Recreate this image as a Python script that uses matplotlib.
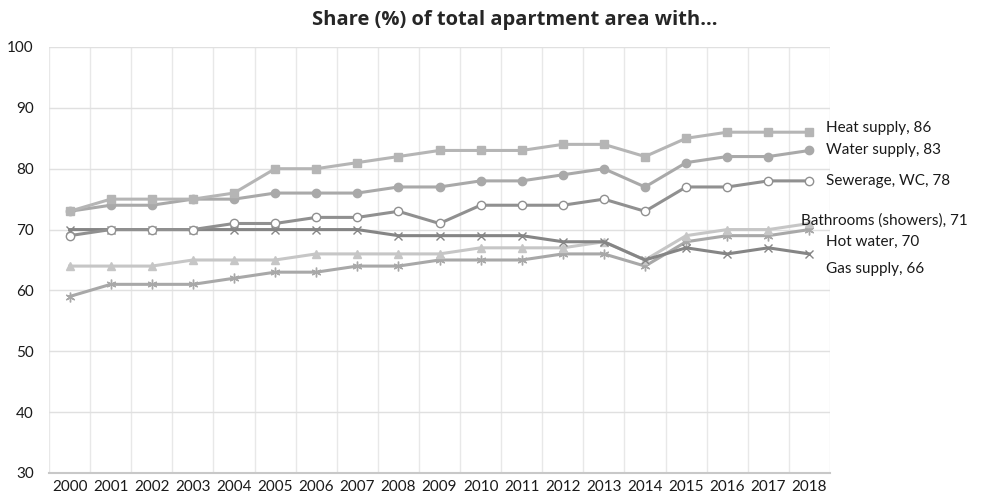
import numpy as np
import matplotlib
matplotlib.use("Agg")
import matplotlib.pyplot as plt

plt.rcParams['font.family'] = ['Lato', 'DejaVu Sans']

years = [str(y) for y in range(2000, 2019)]

heat_supply = [73, 75, 75, 75, 76, 80, 80, 81, 82, 83, 83, 83, 84, 84, 82, 85, 86, 86, 86]
water_supply = [73, 74, 74, 75, 75, 76, 76, 76, 77, 77, 78, 78, 79, 80, 77, 81, 82, 82, 83]
sewerage = [69, 70, 70, 70, 71, 71, 72, 72, 73, 71, 74, 74, 74, 75, 73, 77, 77, 78, 78]
bathrooms = [64, 64, 64, 65, 65, 65, 66, 66, 66, 66, 67, 67, 67, 68, 65, 69, 70, 70, 71]
hot_water = [59, 61, 61, 61, 62, 63, 63, 64, 64, 65, 65, 65, 66, 66, 64, 68, 69, 69, 70]
gas_supply = [70, 70, 70, 70, 70, 70, 70, 70, 69, 69, 69, 69, 68, 68, 65, 67, 66, 67, 66]

fig = plt.figure(figsize=(9.88, 4.99), dpi=100)
ax = fig.add_axes([49 / 988, 1 - 473 / 499, (830 - 49) / 988, (473 - 47) / 499])

x = np.arange(len(years))

# series: (name, values, color, marker, face, size, label offset in pt)
series = [
    ("Hot water", hot_water, "#a8a8a8", (6, 2, 0), "#a8a8a8", 7, (12, -9)),
    ("Bathrooms (showers)", bathrooms, "#c6c6c6", "^", "#c6c6c6", 6, (-6, 2)),
    ("Gas supply", gas_supply, "#858585", "x", "#858585", 6, (12, -11)),
    ("Sewerage, WC", sewerage, "#909090", "o", "white", 6, (12, 0)),
    ("Water supply", water_supply, "#a9a9a9", "o", "#a9a9a9", 6, (12, 0)),
    ("Heat supply", heat_supply, "#b5b5b5", "s", "#b5b5b5", 6, (12, 3)),
]

for name, vals, col, mk, face, ms, off in series:
    ax.plot(x, vals, color=col, lw=2.2, marker=mk, ms=ms, mfc=face, mec=col,
            mew=1.0, zorder=3)
    ax.annotate(f"{name}, {vals[-1]}", (x[-1], vals[-1]), xytext=off,
                textcoords="offset points", fontsize=11, color="#1a1a1a",
                va="center", ha="left", annotation_clip=False)

ax.set_ylim(30, 100)
ax.set_yticks(range(30, 101, 10))
ax.set_xlim(-0.5, len(years) - 0.5)
ax.set_xticks(x)
ax.set_xticklabels(years)
ax.set_xticks(np.arange(-0.5, len(years), 1), minor=True)
ax.tick_params(axis="both", which="both", length=0, labelsize=11, colors="#1a1a1a")
ax.tick_params(axis="x", pad=5)
ax.tick_params(axis="y", pad=11)

ax.grid(axis="y", which="major", color="#e0e0e0", lw=1)
ax.grid(axis="x", which="minor", color="#e8e8e8", lw=1)
ax.set_axisbelow(True)
for s in ["top", "right", "left"]:
    ax.spines[s].set_visible(False)
ax.spines["bottom"].set_color("#c8c8c8")
ax.spines["bottom"].set_linewidth(1.5)

fig.text(515 / 988, 1 - 20 / 499, "Share (%) of total apartment area with...",
         ha="center", va="center", fontsize=14.5, fontweight="bold",
         family=["Open Sans", "DejaVu Sans"], color="#262626")

fig.savefig("out.png", dpi=100)
